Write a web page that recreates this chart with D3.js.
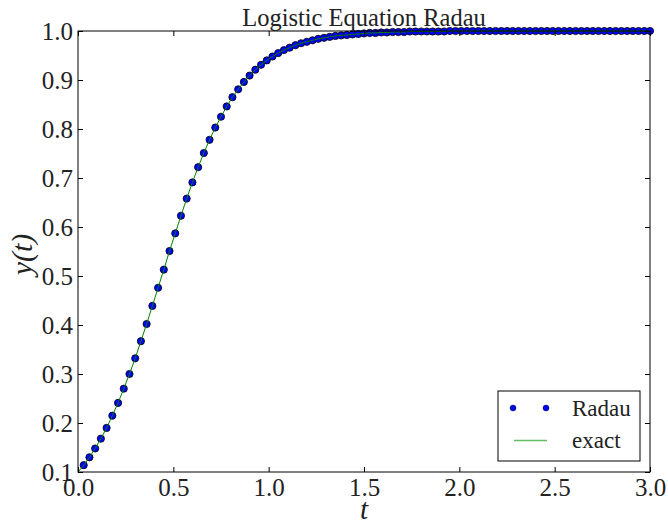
<!DOCTYPE html>
<html>
<head>
<meta charset="utf-8">
<script src="https://cdn.jsdelivr.net/npm/d3@7"></script>
<style>
  html, body { margin: 0; padding: 0; background: #fff; }
  svg text { font-family: 'Liberation Serif', 'DejaVu Serif', serif; fill: #222; }
</style>
</head>
<body>
<svg id="chart" width="668" height="526"></svg>
<script>
'use strict';

// ── Data ────────────────────────────────────────────────────────────────────
const radauT = [
  0.03, 0.06, 0.09, 0.12, 0.15, 0.18, 0.21, 0.24, 0.27, 0.30,
  0.33, 0.36, 0.39, 0.42, 0.45, 0.48, 0.51, 0.54, 0.57, 0.60,
  0.63, 0.66, 0.69, 0.72, 0.75, 0.78, 0.81, 0.84, 0.87, 0.90,
  0.93, 0.96, 0.99, 1.02, 1.05, 1.08, 1.11, 1.14, 1.17, 1.20,
  1.23, 1.26, 1.29, 1.32, 1.35, 1.38, 1.41, 1.44, 1.47, 1.50,
  1.53, 1.56, 1.59, 1.62, 1.65, 1.68, 1.71, 1.74, 1.77, 1.80,
  1.83, 1.86, 1.89, 1.92, 1.95, 1.98, 2.01, 2.04, 2.07, 2.10,
  2.13, 2.16, 2.19, 2.22, 2.25, 2.28, 2.31, 2.34, 2.37, 2.40,
  2.43, 2.46, 2.49, 2.52, 2.55, 2.58, 2.61, 2.64, 2.67, 2.70,
  2.73, 2.76, 2.79, 2.82, 2.85, 2.88, 2.91, 2.94, 2.97, 3.00
];
const radauY = [
  0.114, 0.130, 0.148, 0.168, 0.190, 0.215, 0.241, 0.270, 0.300, 0.332,
  0.367, 0.402, 0.439, 0.476, 0.513, 0.551, 0.587, 0.623, 0.658, 0.691,
  0.722, 0.751, 0.778, 0.803, 0.825, 0.846, 0.865, 0.881, 0.896, 0.909,
  0.921, 0.931, 0.940, 0.948, 0.955, 0.961, 0.966, 0.971, 0.975, 0.978,
  0.981, 0.984, 0.986, 0.988, 0.990, 0.991, 0.992, 0.993, 0.994, 0.995,
  0.996, 0.996, 0.997, 0.997, 0.998, 0.998, 0.998, 0.999, 0.999, 0.999,
  0.999, 0.999, 0.999, 0.999, 1.000, 1.000, 1.000, 1.000, 1.000, 1.000,
  1.000, 1.000, 1.000, 1.000, 1.000, 1.000, 1.000, 1.000, 1.000, 1.000,
  1.000, 1.000, 1.000, 1.000, 1.000, 1.000, 1.000, 1.000, 1.000, 1.000,
  1.000, 1.000, 1.000, 1.000, 1.000, 1.000, 1.000, 1.000, 1.000, 1.000
];
// exact curve starts at the initial value y(0) = 0.1
const exactT = [0].concat(radauT);
const exactY = [0.1].concat(radauY);

const xTicks = [0.0, 0.5, 1.0, 1.5, 2.0, 2.5, 3.0];
const yTicks = [0.1, 0.2, 0.3, 0.4, 0.5, 0.6, 0.7, 0.8, 0.9, 1.0];

// ── Layout ─────────────────────────────────────────────────────────────────
const L = 78, R = 650, T = 31, B = 472;
const SERIF = "'Liberation Serif', 'DejaVu Serif', serif";

const svg = d3.select('#chart');

const x = d3.scaleLinear().domain([0, 3]).range([L, R]);
const y = d3.scaleLinear().domain([0.1, 1.0]).range([B, T]);

// clip for data marks
svg.append('defs').append('clipPath').attr('id', 'clip')
  .append('rect').attr('x', L).attr('y', T - 5).attr('width', R - L + 5).attr('height', B - T + 10);

// ── Data marks ─────────────────────────────────────────────────────────────
const marks = svg.append('g').attr('clip-path', 'url(#clip)');

marks.selectAll('circle.pt')
  .data(radauT.map((t, i) => [t, radauY[i]]))
  .join('circle')
  .attr('class', 'pt')
  .attr('cx', d => x(d[0]))
  .attr('cy', d => y(d[1]))
  .attr('r', 3.6)
  .attr('fill', '#0000ff')
  .attr('stroke', '#000')
  .attr('stroke-width', 0.8);

const line = d3.line().x(d => x(d[0])).y(d => y(d[1]));
marks.append('path')
  .datum(exactT.map((t, i) => [t, exactY[i]]))
  .attr('d', line)
  .attr('fill', 'none')
  .attr('stroke', '#008000')
  .attr('stroke-width', 1);

// ── Axes (inward ticks on all four sides) ────────────────────────────────────
const fmt1 = d3.format('.1f');

svg.append('g')
  .attr('transform', `translate(0,${B})`)
  .call(d3.axisBottom(x).tickValues(xTicks).tickSize(-5).tickPadding(6).tickFormat(fmt1))
  .call(ax => ax.select('.domain').remove())
  .call(ax => ax.selectAll('text').attr('font-size', 25).attr('font-family', SERIF));

svg.append('g')
  .attr('transform', `translate(0,${T})`)
  .call(d3.axisTop(x).tickValues(xTicks).tickSize(-5).tickFormat(''))
  .call(ax => ax.select('.domain').remove());

svg.append('g')
  .attr('transform', `translate(${L},0)`)
  .call(d3.axisLeft(y).tickValues(yTicks).tickSize(-5).tickPadding(5).tickFormat(fmt1))
  .call(ax => ax.select('.domain').remove())
  .call(ax => ax.selectAll('text').attr('font-size', 25).attr('font-family', SERIF));

svg.append('g')
  .attr('transform', `translate(${R},0)`)
  .call(d3.axisRight(y).tickValues(yTicks).tickSize(-5).tickFormat(''))
  .call(ax => ax.select('.domain').remove());

svg.selectAll('.tick line').attr('stroke', '#000');

// frame
svg.append('rect')
  .attr('x', L).attr('y', T).attr('width', R - L).attr('height', B - T)
  .attr('fill', 'none').attr('stroke', '#000').attr('stroke-width', 1);

// ── Labels ──────────────────────────────────────────────────────────────────
svg.append('text')
  .attr('x', (L + R) / 2).attr('y', 26)
  .attr('text-anchor', 'middle')
  .attr('font-size', 24.5)
  .text('Logistic Equation Radau');

svg.append('text')
  .attr('x', (L + R) / 2).attr('y', 519)
  .attr('text-anchor', 'middle')
  .attr('font-size', 29)
  .attr('font-style', 'italic')
  .text('t');

svg.append('text')
  .attr('transform', `translate(32,${(T + B) / 2 + 3}) rotate(-90)`)
  .attr('text-anchor', 'middle')
  .attr('font-size', 30)
  .attr('font-style', 'italic')
  .text('y(t)');

// ── Legend ──────────────────────────────────────────────────────────────────
const lg = svg.append('g').attr('transform', 'translate(498,391)');
lg.append('rect')
  .attr('width', 142).attr('height', 70)
  .attr('fill', '#fff').attr('stroke', '#000').attr('stroke-width', 1);

[15, 48].forEach(dx => {
  lg.append('circle').attr('cx', dx).attr('cy', 17).attr('r', 3)
    .attr('fill', '#0000ff').attr('stroke', '#000').attr('stroke-width', 0.4);
});
lg.append('text').attr('x', 74).attr('y', 25).attr('font-size', 23).text('Radau');

lg.append('line')
  .attr('x1', 16).attr('x2', 49).attr('y1', 49.5).attr('y2', 49.5)
  .attr('stroke', '#66bb66').attr('stroke-width', 1.5);
lg.append('text').attr('x', 74).attr('y', 57).attr('font-size', 23).text('exact');
</script>
</body>
</html>
